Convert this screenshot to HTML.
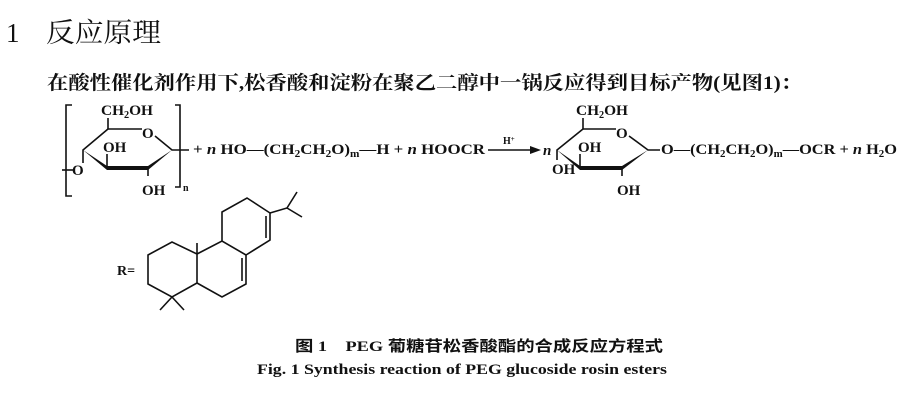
<!DOCTYPE html>
<html><head><meta charset="utf-8"><style>
html,body{margin:0;padding:0;background:#fff;}
svg{display:block;}
.t{font-family:"Liberation Serif",serif;font-size:15px;font-weight:bold;fill:#111;}
.s{font-size:10px;}
</style></head><body>
<svg width="921" height="407" viewBox="0 0 921 407" xmlns="http://www.w3.org/2000/svg">
<g fill="#111">
<text x="6" y="42" font-family="Liberation Serif,serif" font-size="27">1</text>
<text x="46" y="42" font-family="'Noto Serif CJK SC',serif" font-size="27" textLength="115" lengthAdjust="spacingAndGlyphs">反应原理</text>
<text x="47" y="89" font-family="'Liberation Serif','Noto Serif CJK SC',serif" font-size="19" font-weight="bold" textLength="755" lengthAdjust="spacingAndGlyphs">在酸性催化剂作用下,松香酸和淀粉在聚乙二醇中一锅反应得到目标产物(见图1)：</text>
</g>
<g stroke="#111" stroke-width="1.6" fill="none">
<polyline points="72,105 66,105 66,196 72,196"/>
<polyline points="175,105 180,105 180,187 175,187"/>
<polyline points="108,129 108,118"/>
<polyline points="108,129 142,129"/>
<polyline points="155,136 172,150 189,150"/>
<polyline points="108,129 83,150 83,163"/>
<line x1="62" y1="170" x2="74" y2="170"/>
<line x1="107" y1="168" x2="107" y2="154"/>
<line x1="148" y1="168" x2="148" y2="176"/>
<line x1="488" y1="150" x2="534" y2="150"/>
<polyline points="583,129 583,118"/>
<polyline points="583,129 616,129"/>
<polyline points="629,136 648,150 660,150"/>
<polyline points="583,129 557,150 557,160"/>
<line x1="580" y1="168" x2="580" y2="154"/>
<line x1="622" y1="168" x2="622" y2="176"/>
<polygon points="148,255 172,242 197,254 197,283 172,297 148,284"/>
<line x1="172" y1="297" x2="160" y2="310"/>
<line x1="172" y1="297" x2="184" y2="310"/>
<line x1="197" y1="254" x2="197" y2="243"/>
<polyline points="197,254 222,241 246,255 246,284 222,297 197,283"/>
<line x1="242" y1="258" x2="242" y2="281"/>
<polyline points="222,241 222,212 247,198 270,213 270,240 246,255"/>
<line x1="266" y1="216" x2="266" y2="238"/>
<polyline points="270,213 287,208 297,192"/>
<line x1="287" y1="208" x2="302" y2="217"/>
</g>
<polygon points="83,150 107,166 148,166 172,150 148,170 107,170" fill="#111"/>
<polygon points="557,150 580,166 622,166 648,150 622,170 580,170" fill="#111"/>
<polygon points="541,150 530,146 530,154" fill="#111"/>
<g class="t">
<text x="101" y="115" textLength="52" lengthAdjust="spacingAndGlyphs">CH<tspan class="s" dy="3">2</tspan><tspan dy="-3">OH</tspan></text>
<text x="142" y="138">O</text>
<text x="103" y="152">OH</text>
<text x="72" y="175">O</text>
<text x="142" y="195">OH</text>
<text x="183" y="191" class="s">n</text>
<text x="193" y="154" textLength="292" lengthAdjust="spacingAndGlyphs">+ <tspan font-style="italic">n</tspan> HO—(CH<tspan class="s" dy="3">2</tspan><tspan dy="-3">CH</tspan><tspan class="s" dy="3">2</tspan><tspan dy="-3">O)</tspan><tspan class="s" dy="3">m</tspan><tspan dy="-3">—H  + </tspan><tspan font-style="italic">n</tspan> HOOCR</text>
<text x="503" y="144" class="s">H<tspan dy="-3" font-size="7">+</tspan></text>
<text x="543" y="155" font-style="italic">n</text>
<text x="576" y="115" textLength="52" lengthAdjust="spacingAndGlyphs">CH<tspan class="s" dy="3">2</tspan><tspan dy="-3">OH</tspan></text>
<text x="616" y="138">O</text>
<text x="578" y="152">OH</text>
<text x="552" y="174">OH</text>
<text x="617" y="195">OH</text>
<text x="661" y="154" textLength="236" lengthAdjust="spacingAndGlyphs">O—(CH<tspan class="s" dy="3">2</tspan><tspan dy="-3">CH</tspan><tspan class="s" dy="3">2</tspan><tspan dy="-3">O)</tspan><tspan class="s" dy="3">m</tspan><tspan dy="-3">—OCR  + </tspan><tspan font-style="italic">n</tspan> H<tspan class="s" dy="3">2</tspan><tspan dy="-3">O</tspan></text>
<text x="117" y="275" font-size="14">R=</text>
</g>
<text x="295" y="351" font-family="'Liberation Serif','Noto Sans CJK SC',serif" font-size="15" font-weight="bold" textLength="368" lengthAdjust="spacingAndGlyphs" fill="#111">图 1　PEG 葡糖苷松香酸酯的合成反应方程式</text>
<text x="257" y="374" font-family="'Liberation Serif',serif" font-size="15" font-weight="bold" textLength="410" lengthAdjust="spacingAndGlyphs" fill="#111">Fig. 1   Synthesis reaction of PEG glucoside rosin esters</text>
</svg>
</body></html>
